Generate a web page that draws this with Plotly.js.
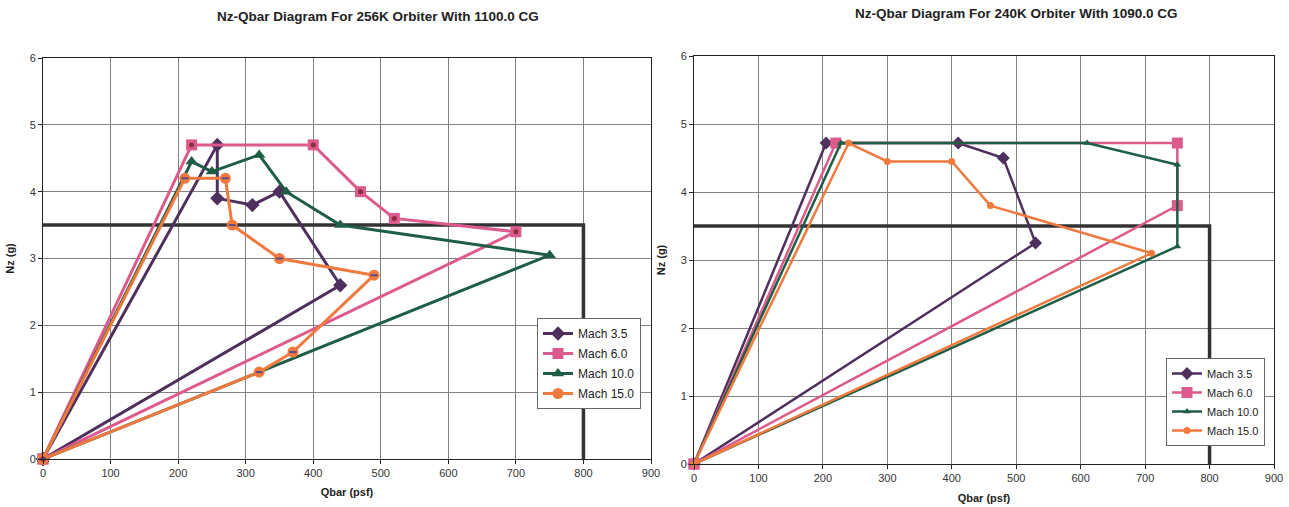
<!DOCTYPE html>
<html>
<head>
<meta charset="utf-8">
<script src="https://cdn.plot.ly/plotly-3.0.1.min.js"></script>
<style>
  html, body { margin: 0; padding: 0; background: #ffffff; }
  #chart { width: 1289px; height: 507px; }
</style>
</head>
<body>
<div id="chart"></div>
<script>
// ---------- Data (Qbar in psf, Nz in g) ----------
// Left chart: 256K Orbiter, 1100.0 CG
const L_M35_Q  = [0, 258, 258, 310, 350, 440, 0];
const L_M35_NZ = [0, 4.7, 3.9, 3.8, 4.0, 2.6, 0];
const L_M60_Q  = [0, 220, 400, 470, 520, 700, 0];
const L_M60_NZ = [0, 4.7, 4.7, 4.0, 3.6, 3.4, 0];
const L_M100_Q  = [0, 220, 250, 320, 360, 440, 750, 0];
const L_M100_NZ = [0, 4.45, 4.3, 4.55, 4.0, 3.5, 3.05, 0];
const L_M150_Q  = [0, 210, 270, 280, 350, 490, 370, 320, 0];
const L_M150_NZ = [0, 4.2, 4.2, 3.5, 3.0, 2.75, 1.6, 1.3, 0];

// Right chart: 240K Orbiter, 1090.0 CG
const R_M35_Q  = [0, 205, 410, 480, 530, 0];
const R_M35_NZ = [0, 4.72, 4.72, 4.5, 3.25, 0];
const R_M60_Q  = [0, 220, 750, 750, 0];
const R_M60_NZ = [0, 4.72, 4.72, 3.8, 0];
const R_M100_Q  = [0, 228, 610, 750, 750, 0];
const R_M100_NZ = [0, 4.72, 4.72, 4.4, 3.2, 0];
const R_M150_Q  = [0, 240, 300, 400, 460, 710, 0];
const R_M150_NZ = [0, 4.72, 4.45, 4.45, 3.8, 3.1, 0];

// Limit envelope (Qbar 800 psf, Nz 3.5 g)
const LIMIT_Q  = [0, 800, 800];
const LIMIT_NZ = [3.5, 3.5, 0];

const SERIES_NAMES = ['Mach 3.5', 'Mach 6.0', 'Mach 10.0', 'Mach 15.0'];
const TITLE_LEFT  = 'Nz-Qbar Diagram For 256K Orbiter With 1100.0 CG';
const TITLE_RIGHT = 'Nz-Qbar Diagram For 240K Orbiter With 1090.0 CG';
const X_TICKS = [0, 100, 200, 300, 400, 500, 600, 700, 800, 900];
const Y_TICKS = [0, 1, 2, 3, 4, 5, 6];

// ---------- Styles ----------
const COLORS  = ['#4e2f5e', '#dd5a8c', '#1e5e45', '#f07a3e'];
const SYMBOLS = ['diamond', 'square', 'triangle-up', 'circle'];
const FONT = 'Liberation Sans, Arial, sans-serif';

const left = [[L_M35_Q, L_M35_NZ], [L_M60_Q, L_M60_NZ], [L_M100_Q, L_M100_NZ], [L_M150_Q, L_M150_NZ]];
const right = [[R_M35_Q, R_M35_NZ], [R_M60_Q, R_M60_NZ], [R_M100_Q, R_M100_NZ], [R_M150_Q, R_M150_NZ]];

const traces = [];

// limit lines
traces.push({x: LIMIT_Q, y: LIMIT_NZ, xaxis: 'x', yaxis: 'y', mode: 'lines',
  line: {color: '#333333', width: 3.5}, showlegend: false, hoverinfo: 'skip'});
traces.push({x: LIMIT_Q, y: LIMIT_NZ, xaxis: 'x2', yaxis: 'y2', mode: 'lines',
  line: {color: '#333333', width: 3.5}, showlegend: false, hoverinfo: 'skip'});

const leftSizes  = [11, 11, 11, 11];
const rightSizes = [10, 11, 7, 7];

left.forEach((s, i) => {
  traces.push({
    x: s[0], y: s[1], xaxis: 'x', yaxis: 'y', name: SERIES_NAMES[i],
    mode: 'lines+markers', cliponaxis: false,
    line: {color: COLORS[i], width: 3},
    marker: {symbol: SYMBOLS[i], size: leftSizes[i], color: COLORS[i]},
    legend: 'legend', legendgroup: 'L' + i
  });
});
// inner marks (Excel style)
traces.push({x: L_M60_Q, y: L_M60_NZ, xaxis: 'x', yaxis: 'y', mode: 'markers', cliponaxis: false,
  marker: {symbol: 'circle', size: 5, color: '#8a2f3c'}, showlegend: false, hoverinfo: 'skip'});
traces.push({x: L_M150_Q, y: L_M150_NZ, xaxis: 'x', yaxis: 'y', mode: 'markers', cliponaxis: false,
  marker: {symbol: 'line-ew', size: 5, line: {color: '#5a4a8a', width: 2}}, showlegend: false, hoverinfo: 'skip'});

right.forEach((s, i) => {
  traces.push({
    x: s[0], y: s[1], xaxis: 'x2', yaxis: 'y2', name: SERIES_NAMES[i],
    mode: 'lines+markers', cliponaxis: false,
    line: {color: COLORS[i], width: 2.5},
    marker: {symbol: SYMBOLS[i], size: rightSizes[i], color: COLORS[i]},
    legend: 'legend2'
  });
});

const W = 1289, H = 507;
function axX(domain, anchor, standoff) {
  return {
    domain: domain, anchor: anchor, range: [0, 900], tickvals: X_TICKS,
    showgrid: true, gridcolor: '#808080', gridwidth: 1, zeroline: false,
    showline: true, linecolor: '#222222', linewidth: 1, mirror: true,
    ticks: 'outside', ticklen: 4, tickcolor: '#222222',
    tickfont: {family: FONT, size: 11, color: '#333333'},
    title: {text: 'Qbar (psf)', font: {family: FONT, size: 11, color: '#222222', weight: 'bold'}, standoff: standoff},
    fixedrange: true
  };
}
function axY(domain, anchor) {
  return {
    domain: domain, anchor: anchor, range: [0, 6], tickvals: Y_TICKS,
    showgrid: true, gridcolor: '#808080', gridwidth: 1, zeroline: false,
    showline: true, linecolor: '#222222', linewidth: 1, mirror: true,
    ticks: 'outside', ticklen: 4, tickcolor: '#222222',
    tickfont: {family: FONT, size: 11, color: '#333333'},
    title: {text: 'Nz (g)', font: {family: FONT, size: 11, color: '#222222', weight: 'bold'}, standoff: 12},
    fixedrange: true
  };
}

const layout = {
  width: W, height: H,
  margin: {l: 0, r: 0, t: 0, b: 0},
  paper_bgcolor: '#ffffff', plot_bgcolor: '#ffffff',
  font: {family: FONT, color: '#222222'},
  xaxis:  axX([43 / W, 651 / W], 'y', 10),
  yaxis:  axY([48 / H, 449 / H], 'x'),
  xaxis2: axX([694 / W, 1274 / W], 'y2', 11),
  yaxis2: axY([43 / H, 451 / H], 'x2'),
  showlegend: true,
  legend: {
    x: 537 / W, y: (H - 318) / H, xanchor: 'left', yanchor: 'top',
    bgcolor: '#ffffff', bordercolor: '#666666', borderwidth: 1,
    font: {family: FONT, size: 12, color: '#222222'},
    itemwidth: 30, traceorder: 'grouped', tracegroupgap: 1
  },
  legend2: {
    x: 1166 / W, y: (H - 358) / H, xanchor: 'left', yanchor: 'top',
    bgcolor: '#ffffff', bordercolor: '#666666', borderwidth: 1,
    font: {family: FONT, size: 11, color: '#222222'},
    itemwidth: 30, traceorder: 'normal', tracegroupgap: 0
  },
  annotations: [
    {text: TITLE_LEFT, xref: 'paper', yref: 'paper', x: 378 / W, y: (H - 16) / H,
     xanchor: 'center', yanchor: 'middle', showarrow: false,
     font: {family: FONT, size: 13.5, color: '#222222', weight: 'bold'}},
    {text: TITLE_RIGHT, xref: 'paper', yref: 'paper', x: 1016 / W, y: (H - 13) / H,
     xanchor: 'center', yanchor: 'middle', showarrow: false,
     font: {family: FONT, size: 13.5, color: '#222222', weight: 'bold'}}
  ]
};

Plotly.newPlot('chart', traces, layout, {displayModeBar: false, staticPlot: true});
</script>
</body>
</html>
